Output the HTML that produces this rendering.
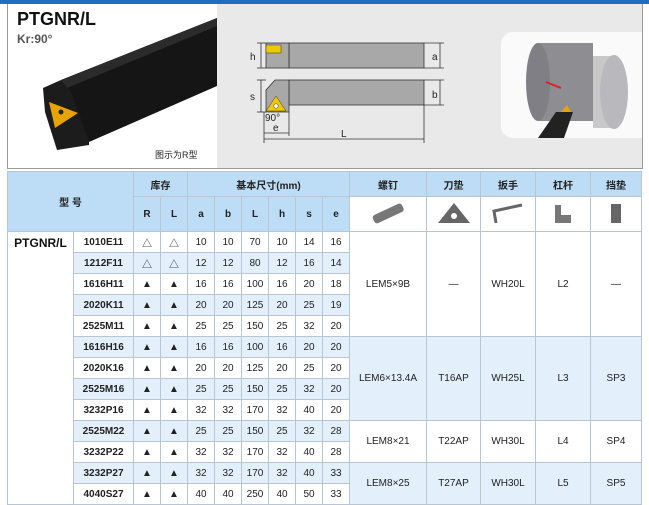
<!DOCTYPE html>
<html><head><meta charset="utf-8"><style>
*{margin:0;padding:0;box-sizing:border-box}
body{width:649px;height:505px;background:#fff;position:relative;overflow:hidden;font-family:"Liberation Sans","Noto Sans CJK SC",sans-serif}
.top{position:absolute;left:0;top:0;width:649px;height:4px;background:#1f6fc1}
.panel{position:absolute;left:7px;top:4px;width:636px;height:165px;border:1px solid #999;border-top:none;background:#fff;overflow:hidden}
table{position:absolute;left:7px;top:171px;border-collapse:collapse;table-layout:fixed;font-size:10px;color:#222}
td{border:1px solid #b9c6d2;text-align:center;vertical-align:middle;padding:0;overflow:hidden;white-space:nowrap}
.h{background:#bddcf5;font-weight:bold;color:#222}
.b{background:#e3f0fb}
.m{font-weight:bold}
</style></head><body>
<div class="top"></div>
<div class="panel">
<svg width="636" height="165" viewBox="7 4 636 165" style="position:absolute;left:0;top:0">
<rect x="216" y="4" width="430" height="170" fill="#e9e9e9"/>
<polygon points="60,80 216,18 216,86 88,142" fill="#151515"/>
<polygon points="60,80 216,18 216,26 66,88" fill="#2b2b2b"/>
<polygon points="42,88 60,80 70,92 88,142 88,145 56,150 44,112" fill="#1c1c1c"/>
<polygon points="48,102 77,113 54,128" fill="#e8a300"/>
<circle cx="60" cy="112" r="2.5" fill="#222"/>
<text x="16" y="25" font-size="18" font-weight="bold" fill="#111">PTGNR/L</text>
<text x="16" y="43" font-size="12" font-weight="bold" fill="#555">Kr:90°</text>
<text x="154" y="158" font-size="9" fill="#222">图示为R型</text>
<g stroke="#333" stroke-width="0.8" fill="none">
<rect x="288" y="43" width="135" height="25" fill="#a8a8a8"/>
<rect x="265" y="43" width="23" height="25" fill="#a8a8a8"/>
<rect x="288" y="80" width="135" height="25" fill="#a8a8a8"/>
<polygon points="265,90 274,80 288,80 288,112 265,112" fill="#a8a8a8"/>
<line x1="256" y1="43" x2="265" y2="43"/><line x1="256" y1="68" x2="265" y2="68"/>
<line x1="260" y1="43" x2="260" y2="68"/>
<line x1="423" y1="43" x2="443" y2="43"/><line x1="423" y1="68" x2="443" y2="68"/>
<line x1="439" y1="43" x2="439" y2="68"/>
<line x1="256" y1="80" x2="265" y2="80"/><line x1="256" y1="112" x2="265" y2="112"/>
<line x1="260" y1="80" x2="260" y2="112"/>
<line x1="423" y1="80" x2="443" y2="80"/><line x1="423" y1="105" x2="443" y2="105"/>
<line x1="439" y1="80" x2="439" y2="105"/>
<line x1="263" y1="112" x2="263" y2="143"/><line x1="423" y1="105" x2="423" y2="143"/>
<line x1="263" y1="139" x2="423" y2="139"/>
<line x1="263" y1="133" x2="288" y2="133"/><line x1="288" y1="112" x2="288" y2="136"/>
</g>
<rect x="265" y="45" width="15" height="8" fill="#f0c800" stroke="#333" stroke-width="0.5"/>
<polygon points="265,111 275,96 285,111" fill="#f0c800" stroke="#333" stroke-width="0.5"/>
<circle cx="275" cy="106" r="2.2" fill="#fff" stroke="#333" stroke-width="0.5"/>
<g font-size="10" fill="#222"><text x="249" y="60">h</text><text x="431" y="60">a</text><text x="249" y="100">s</text><text x="431" y="98">b</text><text x="264" y="121">90°</text><text x="272" y="131">e</text><text x="340" y="137">L</text></g>
<rect x="500" y="32" width="160" height="106" rx="12" fill="#fafafa"/>
<rect x="537" y="43" width="55" height="78" fill="#8e8e92"/>
<ellipse cx="537" cy="82" rx="12" ry="39" fill="#7f7f85"/>
<rect x="592" y="56" width="20" height="72" fill="#c8c8c8"/>
<ellipse cx="613" cy="92" rx="14" ry="37" fill="#b9b9bd"/>
<polygon points="537,138 555,112 572,112 563,138" fill="#222"/>
<polygon points="560,112 566,105 570,112" fill="#e8a300"/>
<line x1="560" y1="88" x2="545" y2="82" stroke="#d22" stroke-width="2"/>
</svg>
</div>
<table>
<colgroup><col style="width:66px"><col style="width:60px"><col style="width:27px"><col style="width:27px"><col style="width:27px"><col style="width:27px"><col style="width:27px"><col style="width:27px"><col style="width:27px"><col style="width:27px"><col style="width:77px"><col style="width:54px"><col style="width:55px"><col style="width:55px"><col style="width:51px"></colgroup>
<tr style="height:25px"><td class="h" colspan="2" rowspan="2">型 号</td><td class="h" colspan="2">库存</td><td class="h" colspan="6">基本尺寸(mm)</td><td class="h">螺钉</td><td class="h">刀垫</td><td class="h">扳手</td><td class="h">杠杆</td><td class="h">挡垫</td></tr>
<tr style="height:35px"><td class="h">R</td><td class="h">L</td><td class="h">a</td><td class="h">b</td><td class="h">L</td><td class="h">h</td><td class="h">s</td><td class="h">e</td>
<td><svg width="40" height="24"><g transform="rotate(-25 20 12)"><rect x="4" y="8" width="32" height="9" rx="3" fill="#777"/></g></svg></td>
<td><svg width="40" height="24"><polygon points="4,22 20,2 36,22" fill="#666"/><circle cx="20" cy="15" r="3" fill="#fff"/></svg></td>
<td><svg width="40" height="24"><path d="M8,22 L6,10 L34,4" stroke="#666" stroke-width="3" fill="none"/></svg></td>
<td><svg width="40" height="24"><path d="M12,4 h6 v10 h10 v8 h-16z" fill="#777"/></svg></td>
<td><svg width="30" height="24"><rect x="10" y="3" width="10" height="19" fill="#666"/></svg></td></tr>
<tr style="height:21px"><td rowspan="13" style="vertical-align:top;padding-top:4px;font-weight:bold;font-size:12px;color:#111;background:#fff">PTGNR/L</td><td class="m">1010E11</td><td>△</td><td>△</td><td>10</td><td>10</td><td>70</td><td>10</td><td>14</td><td>16</td><td rowspan="5">LEM5×9B</td><td rowspan="5">—</td><td rowspan="5">WH20L</td><td rowspan="5">L2</td><td rowspan="5">—</td></tr>
<tr style="height:21px" class="b"><td class="m">1212F11</td><td>△</td><td>△</td><td>12</td><td>12</td><td>80</td><td>12</td><td>16</td><td>14</td></tr>
<tr style="height:21px"><td class="m">1616H11</td><td>▲</td><td>▲</td><td>16</td><td>16</td><td>100</td><td>16</td><td>20</td><td>18</td></tr>
<tr style="height:21px" class="b"><td class="m">2020K11</td><td>▲</td><td>▲</td><td>20</td><td>20</td><td>125</td><td>20</td><td>25</td><td>19</td></tr>
<tr style="height:21px"><td class="m">2525M11</td><td>▲</td><td>▲</td><td>25</td><td>25</td><td>150</td><td>25</td><td>32</td><td>20</td></tr>
<tr style="height:21px" class="b"><td class="m">1616H16</td><td>▲</td><td>▲</td><td>16</td><td>16</td><td>100</td><td>16</td><td>20</td><td>20</td><td rowspan="4">LEM6×13.4A</td><td rowspan="4">T16AP</td><td rowspan="4">WH25L</td><td rowspan="4">L3</td><td rowspan="4">SP3</td></tr>
<tr style="height:21px"><td class="m">2020K16</td><td>▲</td><td>▲</td><td>20</td><td>20</td><td>125</td><td>20</td><td>25</td><td>20</td></tr>
<tr style="height:21px" class="b"><td class="m">2525M16</td><td>▲</td><td>▲</td><td>25</td><td>25</td><td>150</td><td>25</td><td>32</td><td>20</td></tr>
<tr style="height:21px"><td class="m">3232P16</td><td>▲</td><td>▲</td><td>32</td><td>32</td><td>170</td><td>32</td><td>40</td><td>20</td></tr>
<tr style="height:21px" class="b"><td class="m">2525M22</td><td>▲</td><td>▲</td><td>25</td><td>25</td><td>150</td><td>25</td><td>32</td><td>28</td><td rowspan="2" style="background:#fff">LEM8×21</td><td rowspan="2" style="background:#fff">T22AP</td><td rowspan="2" style="background:#fff">WH30L</td><td rowspan="2" style="background:#fff">L4</td><td rowspan="2" style="background:#fff">SP4</td></tr>
<tr style="height:21px"><td class="m">3232P22</td><td>▲</td><td>▲</td><td>32</td><td>32</td><td>170</td><td>32</td><td>40</td><td>28</td></tr>
<tr style="height:21px" class="b"><td class="m">3232P27</td><td>▲</td><td>▲</td><td>32</td><td>32</td><td>170</td><td>32</td><td>40</td><td>33</td><td rowspan="2">LEM8×25</td><td rowspan="2">T27AP</td><td rowspan="2">WH30L</td><td rowspan="2">L5</td><td rowspan="2">SP5</td></tr>
<tr style="height:21px"><td class="m">4040S27</td><td>▲</td><td>▲</td><td>40</td><td>40</td><td>250</td><td>40</td><td>50</td><td>33</td></tr>
</table>
</body></html>
